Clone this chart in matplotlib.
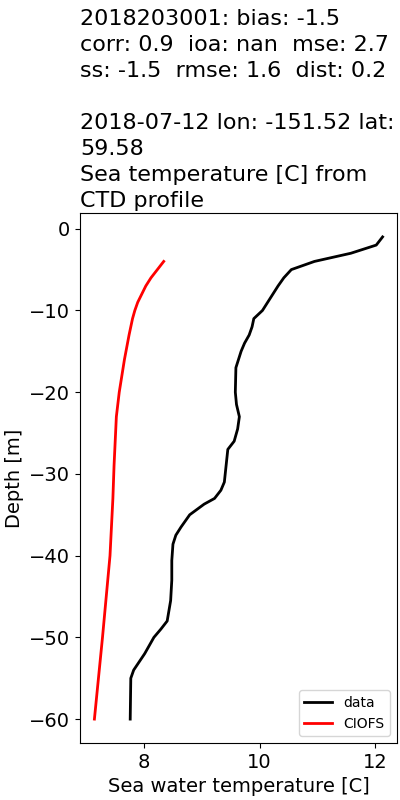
import numpy as np
import matplotlib
matplotlib.use('Agg')
import matplotlib.pyplot as plt

# CTD profile (data)
data_depth = [-1, -2, -3, -4, -5, -6, -7, -8, -9, -10, -11, -12, -13, -14, -15, -17, -20,
              -21.5, -23, -24.5, -26, -27, -29, -31, -32, -33, -33.7, -35, -36.5, -37.5,
              -38.6, -40.6, -43, -45.5, -48, -49, -50, -52, -54, -55, -60]
data_temp = [12.13, 12.02, 11.58, 10.95, 10.55, 10.42, 10.32, 10.23, 10.14, 10.05, 9.90,
             9.87, 9.82, 9.74, 9.68, 9.59, 9.58, 9.60, 9.65, 9.62, 9.56, 9.45, 9.42, 9.39,
             9.33, 9.22, 9.04, 8.79, 8.64, 8.55, 8.50, 8.48, 8.48, 8.46, 8.40, 8.29, 8.17,
             8.01, 7.82, 7.77, 7.76]

# model (CIOFS)
model_depth = [-4, -5, -6, -7, -8, -9, -10, -11, -13, -16, -20, -23, -29, -33, -40, -50, -60]
model_temp = [8.34, 8.23, 8.12, 8.03, 7.96, 7.89, 7.84, 7.80, 7.74, 7.66, 7.57, 7.52, 7.48,
              7.46, 7.41, 7.28, 7.14]

title = ("2018203001: bias: -1.5\n"
         "corr: 0.9  ioa: nan  mse: 2.7\n"
         "ss: -1.5  rmse: 1.6  dist: 0.2\n"
         "\n"
         "2018-07-12 lon: -151.52 lat:\n"
         "59.58\n"
         "Sea temperature [C] from\n"
         "CTD profile")

fig, ax = plt.subplots(figsize=(4, 8), dpi=100)
fig.subplots_adjust(left=0.2, right=0.9925, bottom=0.071, top=0.734)

ax.plot(data_temp, data_depth, color='k', lw=2, label='data')
ax.plot(model_temp, model_depth, color='r', lw=2, label='CIOFS')

ax.set_title(title, loc='left', fontsize=16, pad=4, linespacing=1.38)
ax.set_xlabel('Sea water temperature [C]', fontsize=14)
ax.set_ylabel('Depth [m]', fontsize=14)
ax.tick_params(labelsize=14)
ax.legend(loc='lower right', fontsize=10)

fig.savefig('out.png')
